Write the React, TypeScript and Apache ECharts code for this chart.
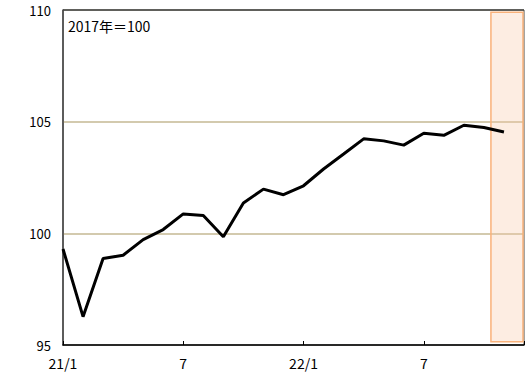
import React, { useEffect, useRef } from "react";
import * as echarts from "echarts";

const monthLabels = ["21/1","2","3","4","5","6","7","8","9","10","11","12","22/1","2","3","4","5","6","7","8","9","10","11","12"];
const tickLabels: Record<number, string> = { 0: "21/1", 6: "7", 12: "22/1", 18: "7" };
const indexValues = [99.3, 96.27, 98.87, 99.02, 99.72, 100.17, 100.87, 100.8, 99.85, 101.36, 101.98, 101.73, 102.13, 102.88, 103.55, 104.23, 104.14, 103.95, 104.48, 104.39, 104.84, 104.74, 104.54];
const forecastStart = 21.35;
const forecastEnd = 22.95;
const unitNote = "2017年＝100";

export default function App() {
  const ref = useRef<HTMLDivElement>(null);
  useEffect(() => {
    if (!ref.current) return;
    const chart = echarts.init(ref.current, null, { renderer: "svg" });
    const font = "'Noto Sans CJK JP', 'Noto Sans', sans-serif";
    const pts = indexValues.map((v, i) => [i, v]);
    chart.setOption({
      animation: false,
      textStyle: { fontFamily: font },
      grid: { left: 63, right: 4, top: 10, bottom: 31, show: true, borderColor: "#4a4a44", borderWidth: 1 },
      graphic: [
        { type: "text", left: 68, top: 19, style: { text: unitNote, fontSize: 14, fill: "#000", fontFamily: font } },
      ],
      xAxis: {
        type: "value",
        min: 0,
        max: monthLabels.length - 1,
        interval: 6,
        axisLine: { show: true, lineStyle: { color: "#000", width: 1.5 } },
        axisTick: { show: true, inside: true, length: 4, lineStyle: { color: "#000" } },
        axisLabel: {
          color: "#000",
          fontSize: 14,
          margin: 11,
          formatter: (v: number) => tickLabels[v] ?? "",
        },
        splitLine: { show: false },
      },
      yAxis: {
        type: "value",
        min: 95,
        max: 110,
        interval: 5,
        axisLine: { show: true, lineStyle: { color: "#444", width: 1.5 } },
        axisTick: { show: false },
        axisLabel: { color: "#000", fontSize: 13, margin: 12 },
        splitLine: { show: true, lineStyle: { color: ["transparent", "#c4b993", "#c4b993", "#4a4a44"], width: 1.5 } },
      },
      series: [
        {
          type: "line",
          data: pts,
          symbol: "none",
          lineStyle: { width: 3, color: "#000" },
          z: 3,
        },
        {
          type: "line",
          data: pts,
          symbol: "none",
          lineStyle: { width: 0, opacity: 0 },
          silent: true,
          z: 6,
          markArea: {
            silent: true,
            itemStyle: { color: "rgba(248,200,165,0.32)", borderColor: "#f9b27a", borderWidth: 1.5 },
            data: [[{ xAxis: forecastStart, yAxis: 95.15 }, { xAxis: forecastEnd, yAxis: 109.9 }]],
          },
        },
      ],
    });
    return () => chart.dispose();
  }, []);
  return <div ref={ref} style={{ position: "absolute", left: 0, top: 0, width: 528, height: 376 }} />;
}
